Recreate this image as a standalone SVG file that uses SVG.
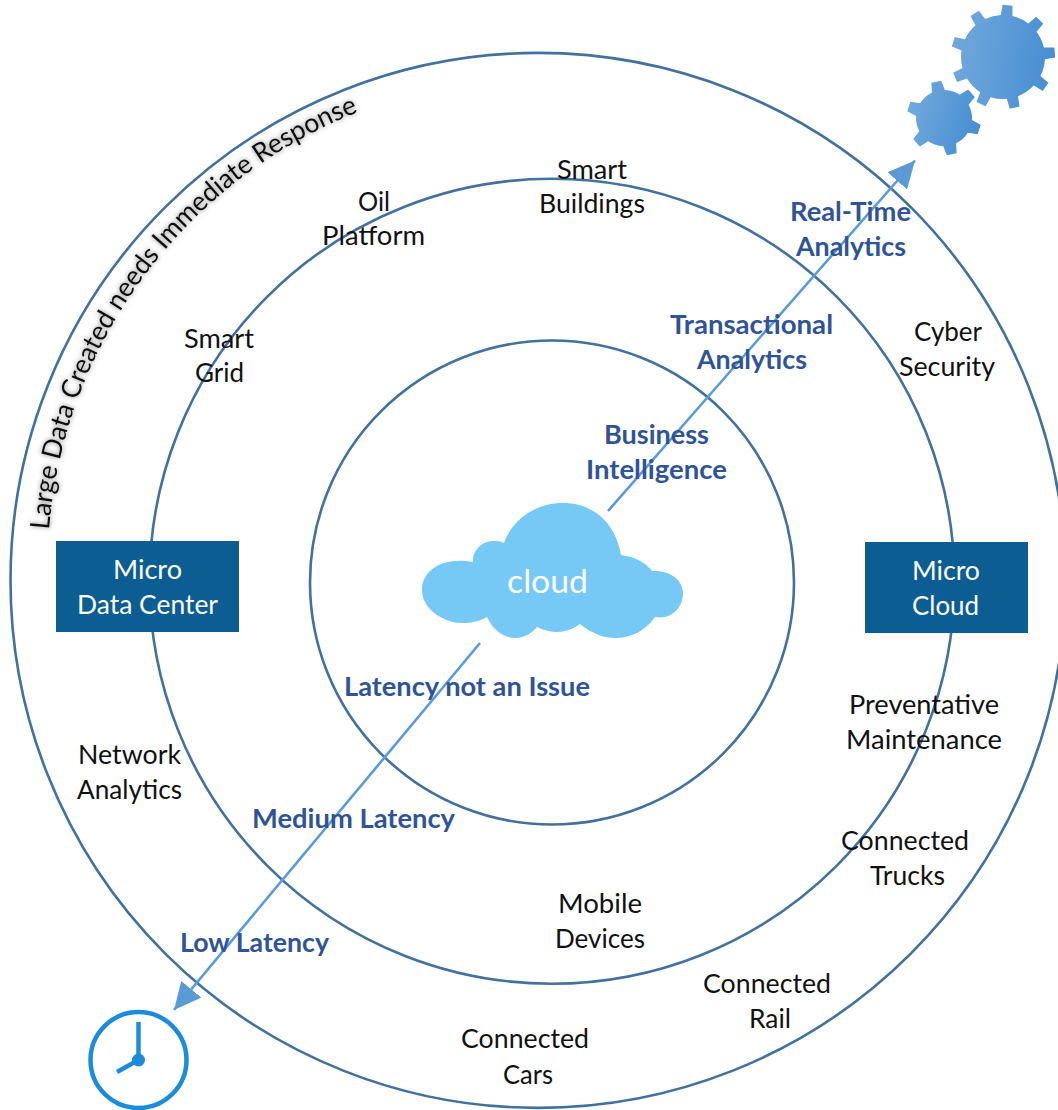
<svg xmlns="http://www.w3.org/2000/svg" xmlns:xlink="http://www.w3.org/1999/xlink" width="1058" height="1110" viewBox="0 0 1058 1110">
<style>
text{font-family:Lato,"Liberation Sans",sans-serif}
.ring{fill:none;stroke:#41719c;stroke-width:2.6}
.conn{fill:none;stroke:#5b9bd5;stroke-width:2.6}
.t{font-size:26.5px;fill:#111}
.b{font-size:26.5px;font-weight:700;fill:#2f5496}
.w{font-size:26.5px;fill:#fff}
.box{fill:#0b5d92}
</style>
<defs>
<marker id="arrow" markerUnits="userSpaceOnUse" markerWidth="28" markerHeight="28" refX="27" refY="13" orient="auto"><path d="M0 0L27 13L0 26Z" fill="#5b9bd5"/></marker>
<linearGradient id="gearA" gradientUnits="userSpaceOnUse" x1="950" y1="50" x2="1056" y2="65"><stop offset="0" stop-color="#72a9dc"/><stop offset="1" stop-color="#458dd2"/></linearGradient>
<linearGradient id="gearB" gradientUnits="userSpaceOnUse" x1="908" y1="105" x2="982" y2="125"><stop offset="0" stop-color="#72a9dc"/><stop offset="1" stop-color="#458dd2"/></linearGradient>
<filter id="glow" x="-10%" y="-10%" width="120%" height="120%"><feDropShadow dx="0" dy="0" stdDeviation="2.6" flood-color="#555" flood-opacity="0.75"/></filter>
<clipPath id="clipBig">
<circle cx="1003" cy="57" r="42"/>
<path d="M997 18L998 5L1008 5L1009 18Z" transform="rotate(5 1003 57)"/>
<path d="M997 18L998 5L1008 5L1009 18Z" transform="rotate(45 1003 57)"/>
<path d="M997 18L998 5L1008 5L1009 18Z" transform="rotate(85 1003 57)"/>
<path d="M997 18L998 5L1008 5L1009 18Z" transform="rotate(125 1003 57)"/>
<path d="M997 18L998 5L1008 5L1009 18Z" transform="rotate(167 1003 57)"/>
<path d="M997 18L998 5L1008 5L1009 18Z" transform="rotate(205 1003 57)"/>
<path d="M997 18L998 5L1008 5L1009 18Z" transform="rotate(247 1003 57)"/>
<path d="M997 18L998 5L1008 5L1009 18Z" transform="rotate(287 1003 57)"/>
<path d="M997 18L998 5L1008 5L1009 18Z" transform="rotate(327 1003 57)"/>
</clipPath>
<clipPath id="clipSmall">
<circle cx="944" cy="118" r="28"/>
<path d="M937 93L939 81L949 81L951 93Z" transform="rotate(-12 944 118)"/>
<path d="M937 93L939 81L949 81L951 93Z" transform="rotate(48 944 118)"/>
<path d="M937 93L939 81L949 81L951 93Z" transform="rotate(108 944 118)"/>
<path d="M937 93L939 81L949 81L951 93Z" transform="rotate(168 944 118)"/>
<path d="M937 93L939 81L949 81L951 93Z" transform="rotate(228 944 118)"/>
<path d="M937 93L939 81L949 81L951 93Z" transform="rotate(288 944 118)"/>
</clipPath>
<path id="curve" d="M49 530A491 491 0 0 1 400 97.600"/>
</defs>

<g id="rings">
<circle class="ring" cx="538" cy="580.400" r="527.500"/>
<circle class="ring" cx="552" cy="581.200" r="402.500"/>
<circle class="ring" cx="552" cy="582.500" r="242"/>
</g>

<g id="connectors">
<line class="conn" x1="608" y1="511" x2="915" y2="160.500" marker-end="url(#arrow)"/>
<line class="conn" x1="480" y1="643" x2="174" y2="1010" marker-end="url(#arrow)"/>
</g>

<g id="title-arc"><text fill="#111" filter="url(#glow)" style="font-size:27px"><textPath xlink:href="#curve" href="#curve" textLength="548" lengthAdjust="spacingAndGlyphs">Large Data Created needs Immediate Response</textPath></text></g>

<g id="cloud">
<path fill="#76c8f5" d="M473 562C440 556 422 572 422 590C422 610 445 623 462 623C472 623 480 621 487 617C494 632 506 638 515 638C524 638 531 634 537 627C545 631 553 632 557 632C565 632 573 629 580 624C592 634 605 638 615 638C632 638 646 630 655 617C672 620 683 607 683 593C683 580 670 570 652 571C645 562 635 557 621 555C616 525 595 503 563 503C535 503 512 520 504 543C500 541 496 541 493 541C482 541 472 551 473 562Z"/>
<text x="507" y="593" font-size="33" fill="#fff" textLength="81" lengthAdjust="spacingAndGlyphs">cloud</text>
</g>

<g id="gears">
<rect x="945" y="0" width="113" height="115" fill="url(#gearA)" clip-path="url(#clipBig)"/>
<rect x="900" y="75" width="90" height="85" fill="url(#gearB)" clip-path="url(#clipSmall)"/>
</g>

<g id="clock" fill="none" stroke="#1b8bdc">
<circle cx="138.500" cy="1060" r="48" stroke-width="4.500"/>
<path d="M138.500 1022V1060L117 1072" stroke-width="4.500"/>
<circle cx="138.500" cy="1060" r="6.500" fill="#1b8bdc" stroke="none"/>
</g>

<g id="micro-data-center"><rect class="box" x="56" y="541" width="183" height="91"/>
<text class="w" x="113" y="579" textLength="69" lengthAdjust="spacingAndGlyphs">Micro</text>
<text class="w" x="77" y="614" textLength="141" lengthAdjust="spacingAndGlyphs">Data Center</text></g>
<g id="micro-cloud"><rect class="box" x="865" y="542" width="163" height="91"/>
<text class="w" x="912" y="580" textLength="68" lengthAdjust="spacingAndGlyphs">Micro</text>
<text class="w" x="912" y="615" textLength="67" lengthAdjust="spacingAndGlyphs">Cloud</text></g>

<g id="smart-buildings"><text class="t" x="557" y="179" textLength="70" lengthAdjust="spacingAndGlyphs">Smart</text><text class="t" x="539" y="213" textLength="106" lengthAdjust="spacingAndGlyphs">Buildings</text></g>
<g id="oil-platform"><text class="t" x="358" y="211" textLength="32" lengthAdjust="spacingAndGlyphs">Oil</text><text class="t" x="322" y="245" textLength="103" lengthAdjust="spacingAndGlyphs">Platform</text></g>
<g id="smart-grid"><text class="t" x="184" y="348" textLength="70" lengthAdjust="spacingAndGlyphs">Smart</text><text class="t" x="195" y="382" textLength="49" lengthAdjust="spacingAndGlyphs">Grid</text></g>
<g id="cyber-security"><text class="t" x="914" y="341" textLength="68" lengthAdjust="spacingAndGlyphs">Cyber</text><text class="t" x="899" y="376" textLength="96" lengthAdjust="spacingAndGlyphs">Security</text></g>
<g id="preventative-maintenance"><text class="t" x="849" y="714" textLength="150" lengthAdjust="spacingAndGlyphs">Preventative</text><text class="t" x="846" y="749" textLength="156" lengthAdjust="spacingAndGlyphs">Maintenance</text></g>
<g id="connected-trucks"><text class="t" x="841" y="850" textLength="128" lengthAdjust="spacingAndGlyphs">Connected</text><text class="t" x="870" y="885" textLength="75" lengthAdjust="spacingAndGlyphs">Trucks</text></g>
<g id="network-analytics"><text class="t" x="78" y="764" textLength="103" lengthAdjust="spacingAndGlyphs">Network</text><text class="t" x="77" y="799" textLength="105" lengthAdjust="spacingAndGlyphs">Analytics</text></g>
<g id="mobile-devices"><text class="t" x="558" y="913" textLength="84" lengthAdjust="spacingAndGlyphs">Mobile</text><text class="t" x="555" y="948" textLength="90" lengthAdjust="spacingAndGlyphs">Devices</text></g>
<g id="connected-rail"><text class="t" x="703" y="993" textLength="128" lengthAdjust="spacingAndGlyphs">Connected</text><text class="t" x="749" y="1028" textLength="42" lengthAdjust="spacingAndGlyphs">Rail</text></g>
<g id="connected-cars"><text class="t" x="461" y="1048" textLength="128" lengthAdjust="spacingAndGlyphs">Connected</text><text class="t" x="503" y="1084" textLength="50" lengthAdjust="spacingAndGlyphs">Cars</text></g>

<g id="real-time-analytics"><text class="b" x="790" y="221" textLength="121" lengthAdjust="spacingAndGlyphs">Real-Time</text><text class="b" x="796" y="256" textLength="110" lengthAdjust="spacingAndGlyphs">Analytics</text></g>
<g id="transactional-analytics"><text class="b" x="670" y="334" textLength="163" lengthAdjust="spacingAndGlyphs">Transactional</text><text class="b" x="697" y="369" textLength="110" lengthAdjust="spacingAndGlyphs">Analytics</text></g>
<g id="business-intelligence"><text class="b" x="604" y="444" textLength="105" lengthAdjust="spacingAndGlyphs">Business</text><text class="b" x="586" y="479" textLength="141" lengthAdjust="spacingAndGlyphs">Intelligence</text></g>
<g id="latency-not-an-issue"><text class="b" x="344" y="696" textLength="246" lengthAdjust="spacingAndGlyphs">Latency not an Issue</text></g>
<g id="medium-latency"><text class="b" x="252" y="828" textLength="203" lengthAdjust="spacingAndGlyphs">Medium Latency</text></g>
<g id="low-latency"><text class="b" x="180" y="952" textLength="149" lengthAdjust="spacingAndGlyphs">Low Latency</text></g>
</svg>
